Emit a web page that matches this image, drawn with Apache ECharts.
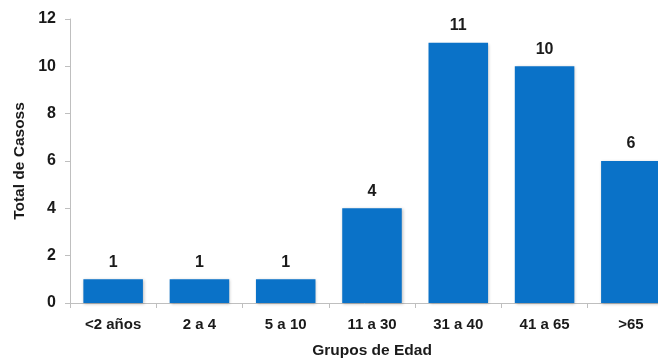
<!DOCTYPE html>
<html>
<head>
<meta charset="utf-8">
<script src="https://cdn.jsdelivr.net/npm/echarts@6/dist/echarts.min.js"></script>
<style>
  html, body { margin: 0; padding: 0; background: #ffffff; }
  #chart { width: 658px; height: 358px; }
</style>
</head>
<body>
<div id="chart"></div>
<script>
// Age groups and number of cases
const categories = ['<2 años', '2 a 4', '5 a 10', '11 a 30', '31 a 40', '41 a 65', '>65'];
const cases = [1, 1, 1, 4, 11, 10, 6];
const yTicks = { min: 0, max: 12, interval: 2 };

const FONT = '"Liberation Sans", Arial, sans-serif';

const chart = echarts.init(document.getElementById('chart'), null, { renderer: 'canvas' });
chart.setOption({
  animation: false,
  backgroundColor: '#ffffff',
  grid: { left: 70, top: 19, width: 604, height: 284, containLabel: false, outerBoundsMode: 'none' },
  xAxis: {
    type: 'category',
    data: categories,
    name: 'Grupos de Edad',
    nameLocation: 'middle',
    nameGap: 40,
    nameTextStyle: { fontFamily: FONT, fontWeight: 'bold', fontSize: 15.5, color: '#1a1a1a' },
    axisLine: { lineStyle: { color: '#bfbfbf', width: 1 } },
    axisTick: { show: true, alignWithLabel: false, length: 5, lineStyle: { color: '#bfbfbf' } },
    axisLabel: { fontFamily: FONT, fontWeight: 'bold', fontSize: 15, color: '#1a1a1a', margin: 14 }
  },
  yAxis: {
    type: 'value',
    min: yTicks.min,
    max: yTicks.max,
    interval: yTicks.interval,
    name: 'Total de Casoss',
    nameLocation: 'middle',
    nameGap: 42,
    nameTextStyle: { fontFamily: FONT, fontWeight: 'bold', fontSize: 15.5, color: '#1a1a1a' },
    axisLine: { show: true, lineStyle: { color: '#bfbfbf', width: 1 } },
    axisTick: { show: true, length: 5, lineStyle: { color: '#bfbfbf' } },
    splitLine: { show: false },
    axisLabel: { fontFamily: FONT, fontWeight: 'bold', fontSize: 16, color: '#1a1a1a', margin: 14 }
  },
  series: [{
    type: 'bar',
    data: cases,
    barWidth: '69%',
    itemStyle: {
      color: '#0a72c8',
      shadowColor: 'rgba(0,0,0,0.25)',
      shadowBlur: 3,
      shadowOffsetX: 1,
      shadowOffsetY: 1
    },
    label: {
      show: true,
      position: 'top',
      distance: 9,
      fontFamily: FONT,
      fontWeight: 'bold',
      fontSize: 16,
      color: '#1a1a1a'
    }
  }]
});
</script>
</body>
</html>
